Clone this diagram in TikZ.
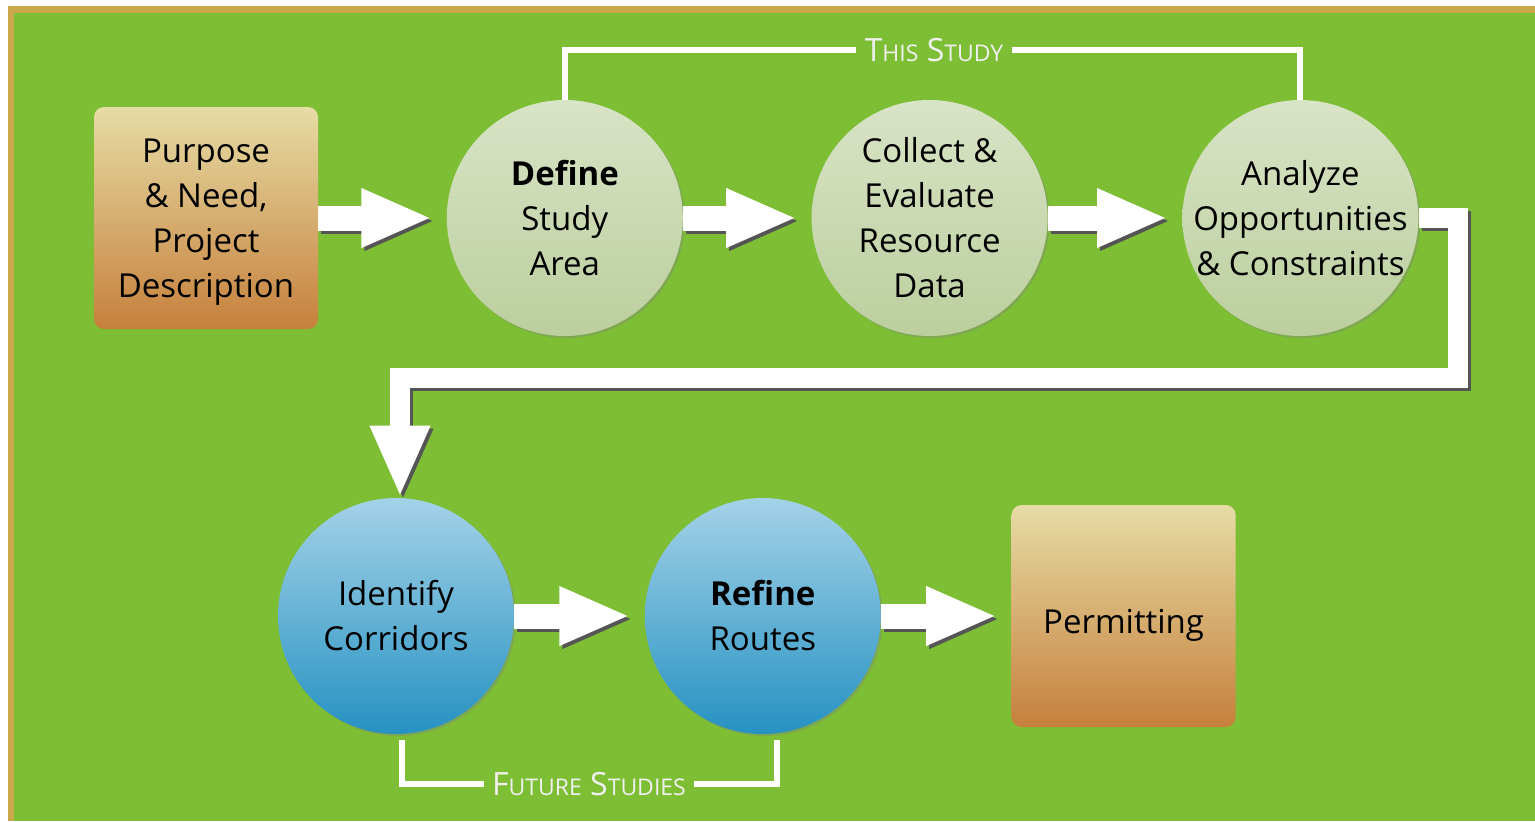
\documentclass[tikz,border=0pt]{standalone}
\usepackage{fontspec}
\setmainfont{Open Sans}
\usetikzlibrary{arrows.meta,shadows,positioning}
\definecolor{bggreen}{RGB}{125,190,53}
\definecolor{framegold}{RGB}{201,169,75}
\definecolor{sagetop}{RGB}{216,228,198}
\definecolor{sagemid}{RGB}{206,221,184}
\definecolor{sagebot}{RGB}{188,206,158}
\definecolor{skytop}{RGB}{164,210,232}
\definecolor{skymid}{RGB}{125,194,224}
\definecolor{skybot}{RGB}{38,146,194}
\definecolor{tantop}{RGB}{230,220,165}
\definecolor{tanmid}{RGB}{222,188,118}
\definecolor{tanbot}{RGB}{198,128,60}
\definecolor{arrowgray}{RGB}{85,85,85}
\newcommand{\sm}[1]{{\fontsize{11.5}{12}\selectfont #1}}

\begin{document}
\begin{tikzpicture}[x=0.5pt,y=-0.5pt,node distance=65pt,
		txt/.style={align=center,font=\fontsize{16.5}{22.5}\selectfont},
		tanbox/.style={txt,rounded corners=5pt,minimum width=112pt,minimum height=111pt,top color=tantop,middle color=tanmid,bottom color=tanbot},
		sage/.style={txt,circle,minimum size=118pt,inner sep=-20pt,top color=sagetop,middle color=sagemid,bottom color=sagebot,drop shadow={shadow xshift=1pt,shadow yshift=-1pt,opacity=0.35}},
		sky/.style={txt,circle,minimum size=118pt,inner sep=-20pt,top color=skytop,middle color=skymid,bottom color=skybot,drop shadow={shadow xshift=1pt,shadow yshift=-1pt,opacity=0.35}},
		fatarrow/.style={white,line width=12.5pt,-{Triangle[length=35.5pt,width=27pt]},shorten >=7pt},
		fatshadow/.style={fatarrow,arrowgray,transform canvas={shift={(1.5pt,-1.5pt)}}},
		bigline/.style={white,line width=10pt,-{Triangle[length=36pt,width=27.5pt]}},
		bigshadow/.style={bigline,arrowgray,transform canvas={shift={(1.5pt,-1.5pt)}}},
		bracket/.style={white,line width=3pt},
		tag/.style={text=gray!12,font=\fontsize{16}{16}\selectfont,inner xsep=4pt}]
			\useasboundingbox (0,0) rectangle (1535,821);
			\fill[framegold] (8,6) rectangle (1535,821);
			\fill[bggreen] (14,13) rectangle (1535,821);
			\node[tanbox,text depth=0pt] (purpose) at (206,218) {Purpose\\\& Need,\\Project\\Description};
			\node[sage,right=64pt of purpose] (define) {\textbf{Define}\\Study\\Area};
			\node[sage,right=64pt of define] (collect) {Collect \&\\Evaluate\\Resource\\Data};
			\node[sage,right=67pt of collect] (analyze) {Analyze\\Opportunities\\\& Constraints};
			\node[sky] (identify) at (396,616) {Identify\\Corridors};
			\node[sky,right=of identify] (refine) {\textbf{Refine}\\Routes};
			\node[tanbox,right=of refine,text height=21pt,text depth=3.5pt] (permit) {Permitting};
			\draw[fatshadow] (purpose) -- (define);
			\draw[fatarrow] (purpose) -- (define);
			\draw[fatshadow] (define) -- (collect);
			\draw[fatarrow] (define) -- (collect);
			\draw[fatshadow] (collect) -- (analyze);
			\draw[fatarrow] (collect) -- (analyze);
			\draw[fatshadow] (identify) -- (refine);
			\draw[fatarrow] (identify) -- (refine);
			\draw[fatshadow] (refine) -- (permit);
			\draw[fatarrow] (refine) -- (permit);
			\coordinate (bend) at (1458,378);
			\draw[bigshadow] (analyze.east) -| (bend) -| ([xshift=2pt]identify.north);
			\draw[bigline] (analyze.east) -| (bend) -| ([xshift=2pt]identify.north);
			\node[tag] (this) at (934,50) {T\sm{HIS} S\sm{TUDY}};
			\draw[bracket] (define.north) |- (this.west);
			\draw[bracket] (this.east) -| (analyze.north);
			\node[tag] (future) at (589,784) {F\sm{UTURE} S\sm{TUDIES}};
			\draw[bracket,shorten <=3pt] ([xshift=3pt]identify.south) |- (future.west);
			\draw[bracket,shorten >=3pt] (future.east) -| ([xshift=7pt]refine.south);
		\end{tikzpicture}
\end{document}
